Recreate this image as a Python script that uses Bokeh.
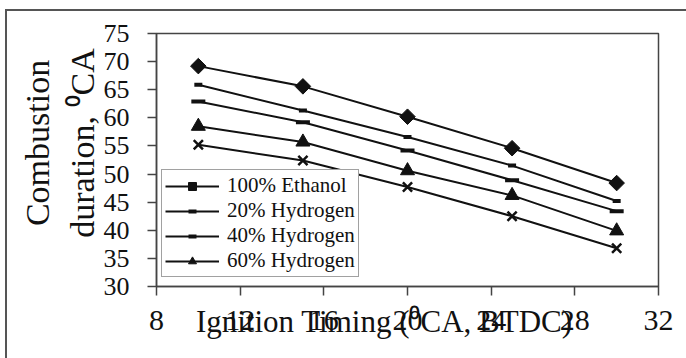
from bokeh.plotting import figure
from bokeh.models import FixedTicker, Legend, LegendItem
from bokeh.embed import file_html
from bokeh.resources import INLINE
import math

# Ignition timing (°CA BTDC) and combustion duration (°CA) per fuel blend
timing = [10, 15, 20, 25, 30]
ethanol_100 = [69.2, 65.6, 60.2, 54.6, 48.4]
hydrogen_20 = [65.9, 61.3, 56.6, 51.5, 45.2]
hydrogen_40 = [62.9, 59.2, 54.2, 48.9, 43.4]
hydrogen_60 = [58.5, 55.7, 50.6, 46.2, 39.9]
hydrogen_80 = [55.2, 52.4, 47.7, 42.5, 36.8]

x_ticks = [8, 12, 16, 20, 24, 28, 32]
y_ticks = [30, 35, 40, 45, 50, 55, 60, 65, 70, 75]

FONT = "Liberation Serif"
INK = "#111111"
FRAME = "#444444"

p = figure(
    frame_width=502, frame_height=253,
    x_range=(8, 32), y_range=(30, 75),
    min_border_left=149, min_border_right=28,
    min_border_top=22, min_border_bottom=72,
    output_backend="svg", toolbar_location=None,
)
p.margin = (9, 0, 0, 5)
p.styles = {"border-left": "2px solid #555555", "border-top": "2px solid #555555"}

p.xgrid.visible = False
p.ygrid.visible = False
p.outline_line_color = FRAME
p.outline_line_width = 1.5
p.background_fill_color = "white"
p.border_fill_color = "white"

for ax in (p.xaxis[0], p.yaxis[0]):
    ax.axis_line_color = FRAME
    ax.axis_line_width = 1.5
    ax.major_tick_line_color = FRAME
    ax.major_tick_line_width = 1.5
    ax.major_tick_out = 9
    ax.major_tick_in = 0
    ax.minor_tick_line_color = None
    ax.major_label_text_font = FONT
    ax.major_label_text_font_style = "normal"
    ax.major_label_text_color = INK
    ax.axis_label_text_font = FONT
    ax.axis_label_text_color = INK
    ax.axis_label_text_font_style = "normal"

p.xaxis.ticker = FixedTicker(ticks=x_ticks)
p.yaxis.ticker = FixedTicker(ticks=y_ticks)
p.xaxis.major_label_text_font_size = "30px"
p.yaxis.major_label_text_font_size = "26px"
p.xaxis.major_label_standoff = 15
p.yaxis.major_label_standoff = 18

NB = "\u00a0"
p.yaxis.axis_label = NB * 4 + "Combustion\n" + NB * 4 + "duration, \u2070CA"
p.yaxis.axis_label_text_font_size = "34px"
p.yaxis.axis_label_standoff = 0

# x-axis title is pulled up onto the tick-label line; trailing no-break
# spaces nudge its centre a little to the left
p.xaxis.axis_label = "Ignition Timing (\u2070CA, BTDC)" + NB * 6
p.xaxis.axis_label_text_font_size = "31px"
p.xaxis.axis_label_standoff = -29

LW = 2
series = [
    ("100% Ethanol", ethanol_100, dict(marker="square", size=11, angle=math.pi / 4, line_width=1)),
    ("20% Hydrogen", hydrogen_20, dict(marker="dash", size=8, line_width=4)),
    ("40% Hydrogen", hydrogen_40, dict(marker="dash", size=14, line_width=4)),
    ("60% Hydrogen", hydrogen_60, dict(marker="triangle", size=14, line_width=1)),
    (None, hydrogen_80, dict(marker="x", size=13, line_width=2.5)),
]

items = []
for label, ys, mk in series:
    ln = p.line(timing, ys, line_color=INK, line_width=LW)
    sc = p.scatter(timing, ys, color=INK, **mk)
    if label:
        items.append(LegendItem(label=label, renderers=[ln, sc]))

legend = Legend(
    items=items, location=(5, 9),
    label_text_font=FONT, label_text_font_size="21px", label_text_color=INK,
    label_height=22, glyph_height=20, glyph_width=54,
    label_standoff=8, spacing=0, padding=3, margin=0,
    border_line_color=FRAME, border_line_width=1.5,
    background_fill_color="white", background_fill_alpha=1.0,
)
p.add_layout(legend)

open("out.html", "w").write(file_html(p, INLINE))
